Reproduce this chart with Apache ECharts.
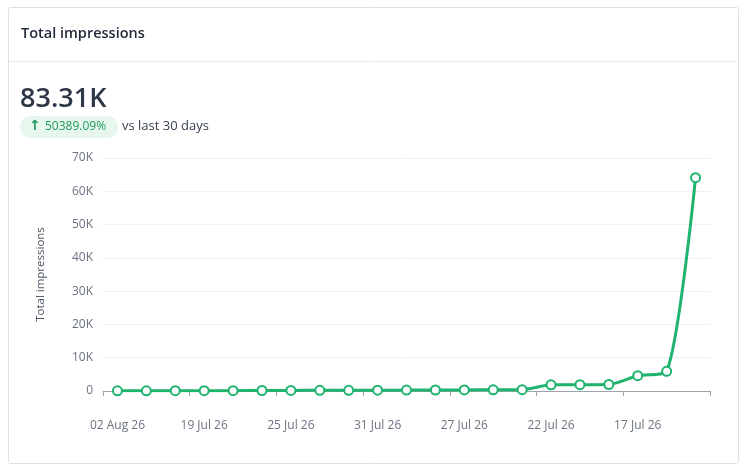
<!DOCTYPE html>
<html>
<head>
<meta charset="utf-8">
<script src="https://cdn.jsdelivr.net/npm/echarts@6/dist/echarts.min.js"></script>
<style>
html,body{margin:0;padding:0;background:#fff;}
#chart{width:747px;height:472px;}
</style>
</head>
<body>
<div id="chart"></div>
<script>
var categories = ['02 Aug 26','01 Aug 26','31 Jul 26','19 Jul 26','20 Jul 26','21 Jul 26','25 Jul 26','26 Jul 26','30 Jul 26','31 Jul 26','29 Jul 26','28 Jul 26','27 Jul 26','24 Jul 26','23 Jul 26','22 Jul 26','21 Jul 26','18 Jul 26','17 Jul 26','16 Jul 26','15 Jul 26'];
var impressions = [50, 60, 80, 90, 100, 150, 180, 200, 220, 250, 270, 300, 330, 360, 380, 1850, 1900, 1950, 4600, 5900, 64100];
var yTicks = [0, 10000, 20000, 30000, 40000, 50000, 60000, 70000];
var titleText = 'Total impressions';
var bigValue = '83.31K';
var changeArrow = '\u2191';
var changeText = '50389.09%';
var compareText = 'vs last 30 days';

var FONT = '"Open Sans", "Noto Sans", sans-serif';
var chart = echarts.init(document.getElementById('chart'));
chart.setOption({
  animation: false,
  textStyle: {fontFamily: FONT},
  graphic: [
    {type:'rect', shape:{x:8.5,y:7.5,width:730,height:456,r:2}, style:{fill:'#fff',stroke:'#dcdfe4',lineWidth:1}, z:-10},
    {type:'line', shape:{x1:9,y1:61.5,x2:738,y2:61.5}, style:{stroke:'#e8eaed',lineWidth:1}},
    {type:'text', left:21, top:26, style:{text:titleText, fill:'#1f2937', font:'600 14.5px ' + FONT}},
    {type:'text', left:20, top:86, style:{text:bigValue, fill:'#2d3748', font:'600 27px ' + FONT}},
    {type:'rect', shape:{x:20,y:116,width:98,height:22,r:11}, style:{fill:'#e7f7ee'}},
    {type:'text', left:29, top:119, style:{text:changeArrow, fill:'#1e9a5e', font:'bold 14px "DejaVu Sans", sans-serif'}},
    {type:'text', left:45, top:121, style:{text:changeText, fill:'#1e9a5e', font:'500 12px ' + FONT}},
    {type:'text', left:122, top:120, style:{text:compareText, fill:'#374151', font:'13px ' + FONT}}
  ],
  grid: {left:103, right:37, top:158, bottom:81},
  xAxis: {
    type:'category',
    data: categories,
    boundaryGap: true,
    axisLine: {lineStyle:{color:'#9ca3af'}},
    axisTick: {show:true, interval:2, lineStyle:{color:'#9ca3af'}},
    axisLabel: {interval:2, color:'#6b7280', fontSize:12, margin:29, fontFamily:FONT}
  },
  yAxis: {
    type:'value',
    min: yTicks[0],
    max: yTicks[yTicks.length-1],
    interval: yTicks[1]-yTicks[0],
    name: titleText,
    nameLocation: 'middle',
    nameGap: 56,
    nameTextStyle: {color:'#4b5563', fontSize:11.5, fontFamily:FONT},
    axisLine: {show:false},
    axisTick: {show:false},
    axisLabel: {color:'#6b7280', fontSize:12, margin:10, fontFamily:FONT,
      formatter: function(v){ return v === 0 ? '0' : (v/1000) + 'K'; }},
    splitLine: {lineStyle:{color:'#eef0f2'}}
  },
  series: [{
    type:'line',
    data: impressions,
    smooth: 0.25,
    symbol: 'emptyCircle',
    symbolSize: 9,
    lineStyle: {color:'#1fb46e', width:3},
    itemStyle: {color:'#1fb46e', borderWidth:2, borderColor:'#1fb46e'}
  }]
});
</script>
</body>
</html>
